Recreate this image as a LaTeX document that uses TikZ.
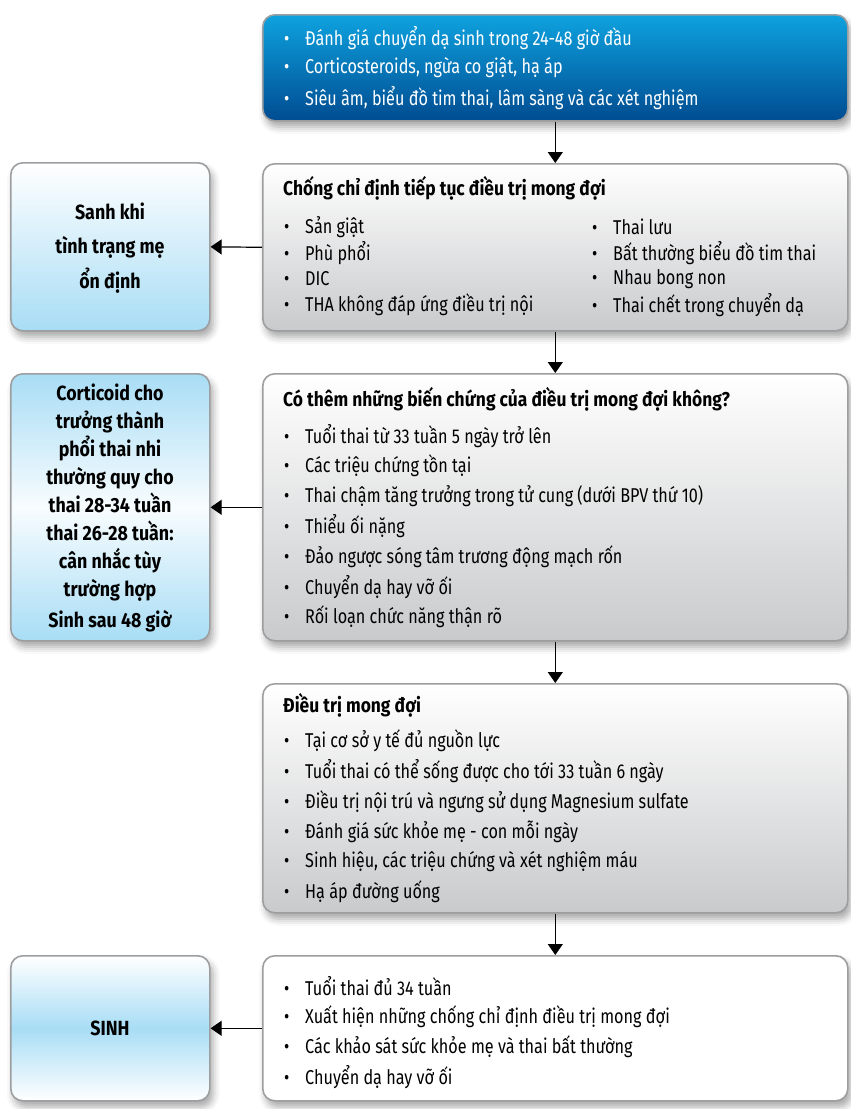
\documentclass[tikz,border=0pt]{standalone}
\usepackage{fontspec}
\setmainfont{Fira Sans}[FakeStretch=0.81,BoldFeatures={FakeStretch=0.87}]
\usetikzlibrary{arrows.meta,shadows.blur}
\definecolor{boxedge}{HTML}{9D9EA0}
\definecolor{bluetop}{HTML}{0EA2DF}
\definecolor{bluebot}{HTML}{004C91}
\definecolor{greybot}{HTML}{C9CACC}
\definecolor{skyblue}{HTML}{A8DDF5}
\begin{document}
\begin{tikzpicture}[x=1pt,y=-1pt,
  every node/.style={inner sep=0pt},
  panel/.style={draw=boxedge,line width=1.6pt,rounded corners=12pt,
    anchor=north west,minimum width=#1,
    blur shadow={shadow xshift=3pt,shadow yshift=-6pt,shadow opacity=35,shadow blur radius=7pt}},
  panel/.default=585pt,
  bluepanel/.style={panel,top color=bluetop,bottom color=bluebot},
  greypanel/.style={panel,top color=white,bottom color=greybot},
  whitepanel/.style={panel,fill=white},
  sidepanel/.style={panel=199pt},
  item/.style={anchor=west,font=\fontsize{20}{22}\selectfont,text=#1},
  item/.default=black,
  head/.style={anchor=west,font=\fontsize{20}{22}\selectfont\bfseries},
  sidetext/.style={align=center,font=\fontsize{20.5}{#1}\selectfont\bfseries},
  link/.style={line width=1.2pt,-{Triangle[width=15pt,length=11pt]}}
]
\useasboundingbox (0,0) rectangle (851,1109);
\newcommand{\bul}{\makebox[21pt][l]{•}}

% main column
\node[bluepanel,minimum height=106pt] (p1) at (262,14) {};
\node[greypanel,minimum height=167pt] (p2) at (262,163) {};
\node[greypanel,minimum height=267pt] (p3) at (262,373) {};
\node[greypanel,minimum height=229pt] (p4) at (262,683) {};
\node[whitepanel,minimum height=145pt] (p5) at (262,955) {};

% side column
\node[sidepanel,top color=white,bottom color=skyblue,minimum height=168pt] (s1) at (10,162) {};
\node[sidepanel,top color=skyblue,bottom color=skyblue,middle color=white!92!skyblue,minimum height=267pt] (s2) at (10,373) {};
\node[sidepanel,top color=white,bottom color=white,middle color=skyblue,minimum height=145pt] (s3) at (10,955) {};

% texts of the first panel
\foreach \txt [count=\i] in {Đánh giá chuyển dạ sinh trong 24-48 giờ đầu,{Corticosteroids, ngừa co giật, hạ áp},{Siêu âm, biểu đồ tim thai, lâm sàng và các xét nghiệm}}
  \node[item=white] (a\i) at (284,{38+(\i-1)*30}) {\bul\txt};

% second panel
\node[head] (h2) at (283,188) {Chống chỉ định tiếp tục điều trị mong đợi};
\foreach \txt [count=\i] in {Sản giật,Phù phổi,DIC,THA không đáp ứng điều trị nội}
  \node[item] (b\i) at (284,{227+(\i-1)*26}) {\bul\txt};
\foreach \txt [count=\i] in {Thai lưu,Bất thường biểu đồ tim thai,Nhau bong non,Thai chết trong chuyển dạ}
  \node[item] (c\i) at (592,{227+(\i-1)*26}) {\bul\txt};

% third panel
\node[head] (h3) at (283,399) {Có thêm những biến chứng của điều trị mong đợi không?};
\foreach \txt [count=\i] in {Tuổi thai từ 33 tuần 5 ngày trở lên,Các triệu chứng tồn tại,Thai chậm tăng trưởng trong tử cung (dưới BPV thứ 10),Thiểu ối nặng,Đảo ngược sóng tâm trương động mạch rốn,Chuyển dạ hay vỡ ối,Rối loạn chức năng thận rõ}
  \node[item] (d\i) at (284,{436+(\i-1)*30.2}) {\bul\txt};

% fourth panel
\node[head] (h4) at (283,705) {Điều trị mong đợi};
\foreach \txt [count=\i] in {Tại cơ sở y tế đủ nguồn lực,Tuổi thai có thể sống được cho tới 33 tuần 6 ngày,Điều trị nội trú và ngưng sử dụng Magnesium sulfate,Đánh giá sức khỏe mẹ - con mỗi ngày,{Sinh hiệu, các triệu chứng và xét nghiệm máu},Hạ áp đường uống}
  \node[item] (e\i) at (284,{741+(\i-1)*30.2}) {\bul\txt};

% fifth panel
\foreach \txt [count=\i] in {Tuổi thai đủ 34 tuần,Xuất hiện những chống chỉ định điều trị mong đợi,Các khảo sát sức khỏe mẹ và thai bất thường,Chuyển dạ hay vỡ ối}
  \node[item] (f\i) at (284,{986+(\i-1)*30.3}) {\bul\txt};

% side texts
\node[sidetext=34.5] (t1) at (110,248) {Sanh khi\\tình trạng mẹ\\ổn định};
\node[sidetext=28] (t2) at (110,508) {Corticoid cho\\trưởng thành\\phổi thai nhi\\thường quy cho\\thai 28-34 tuần\\thai 26-28 tuần:\\cân nhắc tùy\\trường hợp\\[3pt]Sinh sau 48 giờ};
\node[sidetext=20] (t3) at (110,1028) {SINH};

% connectors
\draw[link] (p1.south) -- (p2.north);
\draw[link] (p2.south) -- (p3.north);
\draw[link] (p3.south) -- (p4.north);
\draw[link] (p4.south) -- (p5.north);
\draw[link] (p2.west) -- (s1.east);
\draw[link] (p3.west) -- (s2.east);
\draw[link] (p5.west) -- (s3.east);
\end{tikzpicture}
\end{document}
